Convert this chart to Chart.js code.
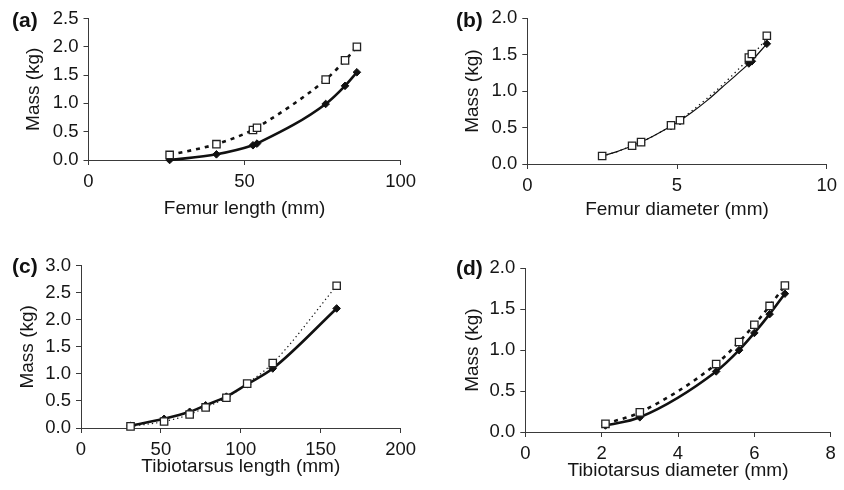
<!DOCTYPE html>
<html>
<head>
<meta charset="utf-8">
<script src="https://cdn.jsdelivr.net/npm/chart.js@4"></script>
<style>
  html, body { margin: 0; padding: 0; background: #fff; }
  body { width: 844px; height: 490px; position: relative; overflow: hidden; font-family: "Liberation Sans", Arial, sans-serif; }
  canvas { position: absolute; }
  .lab { position: absolute; font: bold 21px "Liberation Sans", Arial, sans-serif; color: #111; line-height: 21px; }
</style>
</head>
<body>
<canvas id="ca" width="422" height="240" style="left:0px;top:0px"></canvas>
<canvas id="cb" width="422" height="240" style="left:422px;top:0px"></canvas>
<canvas id="cc" width="422" height="245" style="left:0px;top:245px"></canvas>
<canvas id="cd" width="422" height="245" style="left:422px;top:245px"></canvas>
<div class="lab" style="left:12px;top:9px">(a)</div>
<div class="lab" style="left:456px;top:9px">(b)</div>
<div class="lab" style="left:12px;top:255px">(c)</div>
<div class="lab" style="left:456px;top:257px">(d)</div>
<script>
// Panel (a): femur length
const aX      = [26, 41, 52.7, 54, 76, 82.2, 86];
const aOpen   = [0.09, 0.28, 0.53, 0.57, 1.42, 1.76, 2.00];
const aFilled = [0.00, 0.10, 0.26, 0.29, 0.99, 1.31, 1.55];
// Panel (b): femur diameter
const bX      = [2.5, 3.5, 3.8, 4.8, 5.1, 7.4, 7.5, 8.0];
const bOpen   = [0.11, 0.25, 0.30, 0.53, 0.60, 1.46, 1.51, 1.76];
const bFilled = [0.11, 0.25, 0.30, 0.52, 0.59, 1.38, 1.41, 1.65];
// Panel (b) trend curves
const bFitX      = [2.5, 3.0, 3.5, 4.0, 4.5, 5.0, 5.5, 6.0, 6.5, 7.0, 7.5, 8.0];
const bFitOpen   = [0.11, 0.17, 0.25, 0.34, 0.45, 0.58, 0.73, 0.90, 1.08, 1.28, 1.49, 1.72];
const bFitFilled = [0.11, 0.17, 0.25, 0.34, 0.45, 0.57, 0.71, 0.87, 1.05, 1.23, 1.42, 1.65];
// Panel (c): tibiotarsus length
const cX      = [31, 52, 68, 78, 91, 104, 120, 160];
const cOpen   = [0.03, 0.12, 0.25, 0.38, 0.56, 0.82, 1.20, 2.63];
const cFilled = [0.04, 0.17, 0.30, 0.42, 0.58, 0.81, 1.10, 2.21];
// Panel (d): tibiotarsus diameter
const dX      = [2.1, 3.0, 5.0, 5.6, 6.0, 6.4, 6.8];
const dOpen   = [0.10, 0.24, 0.83, 1.10, 1.31, 1.54, 1.79];
const dFilled = [0.08, 0.18, 0.74, 1.00, 1.21, 1.44, 1.69];

const xTitles = ["Femur length (mm)", "Femur diameter (mm)", "Tibiotarsus length (mm)", "Tibiotarsus diameter (mm)"];
const yTitle = "Mass (kg)";

const FONT = "'Liberation Sans', Arial, sans-serif";
const TXT = '#151515';
const AX = '#3a3a3a';

function pts(xs, ys) { return xs.map((x, i) => ({ x: x, y: ys[i] })); }

function makeChart(id, xs, open, filled, cfg) {
  const openPts = pts(xs, open), filledPts = pts(xs, filled);
  const openLine = cfg.fitX ? pts(cfg.fitX, cfg.fitOpen) : openPts;
  const filledLine = cfg.fitX ? pts(cfg.fitX, cfg.fitFilled) : filledPts;
  new Chart(document.getElementById(id), {
    type: 'scatter',
    data: {
      datasets: [
        { data: openPts, pointStyle: 'rect', pointRadius: 5.2, pointBackgroundColor: '#fff',
          pointBorderColor: '#222', pointBorderWidth: 1.3, showLine: false, order: 0, clip: false },
        { data: filledPts, pointStyle: 'rectRot', pointRadius: 3.8, pointBackgroundColor: '#111',
          pointBorderColor: '#111', pointBorderWidth: 1, showLine: false, order: 1, clip: false },
        { data: openLine, pointRadius: 0, showLine: true, borderColor: '#111', borderWidth: cfg.openW,
          borderDash: cfg.openDash, cubicInterpolationMode: 'monotone', order: 2, clip: false },
        { data: filledLine, pointRadius: 0, showLine: true, borderColor: '#111', borderWidth: cfg.fillW,
          cubicInterpolationMode: 'monotone', order: 3, clip: false }
      ]
    },
    options: {
      responsive: false, animation: false,
      layout: { padding: cfg.pad },
      plugins: { legend: { display: false }, tooltip: { enabled: false } },
      events: [],
      scales: {
        x: {
          type: 'linear', min: cfg.xMin, max: cfg.xMax,
          afterFit: s => { s.height = cfg.xH; },
          border: { color: AX, width: 1 },
          grid: { drawOnChartArea: false, drawTicks: true, tickLength: 5, color: AX },
          ticks: { stepSize: cfg.xStep, color: TXT, font: { family: FONT, size: 18.5 }, padding: cfg.xTickPad,
                   callback: v => String(v) },
          title: { display: true, text: cfg.xTitle, color: TXT, font: { family: FONT, size: 19 },
                   padding: { top: 0, bottom: cfg.xTitlePad } }
        },
        y: {
          type: 'linear', min: 0, max: cfg.yMax,
          afterFit: s => { s.width = cfg.yW; },
          border: { color: AX, width: 1 },
          grid: { drawOnChartArea: false, drawTicks: true, tickLength: 5, color: AX },
          ticks: { stepSize: 0.5, color: TXT, font: { family: FONT, size: 18.5 }, padding: 5,
                   callback: v => Number(v).toFixed(1) },
          title: { display: true, text: yTitle, color: TXT, font: { family: FONT, size: 19 },
                   padding: { top: cfg.yTitlePad, bottom: 0 } }
        }
      }
    }
  });
}

makeChart('ca', aX, aOpen, aFilled, {
  xMin: 0, xMax: 100, xStep: 50, yMax: 2.5, xTitle: xTitles[0],
  pad: { left: 0, top: 18.5, right: 19, bottom: 0 }, yW: 88.5, xH: 80,
  yTitlePad: 22.5, xTitlePad: 19.5, xTickPad: 6,
  openW: 2.6, openDash: [4, 5], fillW: 2.6
});
makeChart('cb', bX, bOpen, bFilled, {
  xMin: 0, xMax: 10, xStep: 5, yMax: 2.0, xTitle: xTitles[1],
  pad: { left: 0, top: 18.3, right: 17.3, bottom: 0 }, yW: 105.3, xH: 76,
  yTitlePad: 39.2, xTitlePad: 18.5, xTickPad: 6,
  openW: 1.3, openDash: [1.3, 3.5], fillW: 1.2,
  fitX: bFitX, fitOpen: bFitOpen, fitFilled: bFitFilled
});
makeChart('cc', cX, cOpen, cFilled, {
  xMin: 0, xMax: 200, xStep: 50, yMax: 3.0, xTitle: xTitles[2],
  pad: { left: 0, top: 20.7, right: 18, bottom: 0 }, yW: 81, xH: 62,
  yTitlePad: 16.2, xTitlePad: 11.5, xTickPad: 6,
  openW: 1.2, openDash: [1.3, 3], fillW: 2.6
});
makeChart('cd', dX, dOpen, dFilled, {
  xMin: 0, xMax: 8, xStep: 2, yMax: 2.0, xTitle: xTitles[3],
  pad: { left: 0, top: 23.3, right: 13.3, bottom: 0 }, yW: 103.3, xH: 58,
  yTitlePad: 39.2, xTitlePad: 7.5, xTickPad: 6,
  openW: 2.6, openDash: [4, 5], fillW: 2.6
});
</script>
</body>
</html>
